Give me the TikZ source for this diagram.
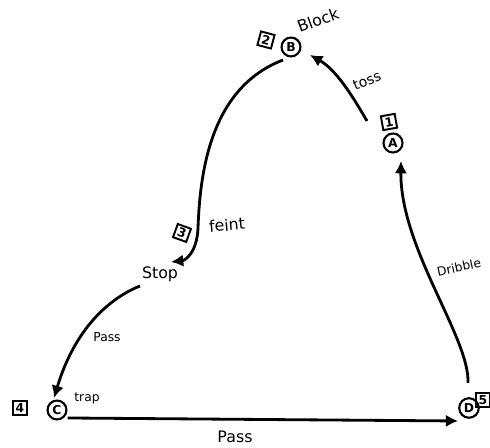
\documentclass[tikz,border=0pt]{standalone}
\usepackage{fontspec}
\setmainfont{DejaVu Sans}
\usetikzlibrary{arrows.meta}

\begin{document}
\begin{tikzpicture}[
    player/.style={draw, circle, line width=1.2pt, inner sep=1.2pt, minimum size=0.36cm, font=\scriptsize\bfseries},
    order/.style={draw, rectangle, line width=1.1pt, inner sep=1pt, minimum size=0.28cm, font=\scriptsize\bfseries},
    move/.style={line width=1.6pt, -{Latex[length=7pt,width=7pt]}},
    lbl/.style={font=\small}
  ]
    \useasboundingbox (0,0) rectangle (9.8,8.96);
    % players
    \node[player] (B) at (5.82,8.02) {B};
    \node[player] (A) at (7.86,6.10) {A};
    \node[player] (C) at (1.14,0.76) {C};
    \node[player] (D) at (9.38,0.80) {D};
    \node[lbl] (stop) at (3.20,3.48) {Stop};
    % order of play
    \node[order, rotate=10] (n1) at (7.78,6.52) {1};
    \node[order, rotate=-15] (n2) at (5.32,8.16) {2};
    \node[order, rotate=-20] (n3) at (3.64,4.30) {3};
    \node[order] (n4) at (0.40,0.80) {4};
    \node[order] (n5) at (9.66,0.96) {5};
    % start points of the moves
    \coordinate (a1) at (7.34,6.54);
    \coordinate (b1) at (5.66,7.76);
    \coordinate (s1) at (2.80,3.24);
    \coordinate (d1) at (9.36,1.30);
    % moves
    \draw[move] (a1) .. controls (7.10,6.95) and (6.75,7.55) .. (6.20,7.86);
    \draw[move] (b1) .. controls (4.20,7.20) and (4.00,5.50) .. (3.96,4.40)
        .. controls (3.94,3.90) and (3.70,3.75) .. (3.42,3.72);
    \draw[move] (s1) .. controls (2.20,3.00) and (1.50,2.40) .. (1.08,1.00);
    \draw[move] ([yshift=-0.16cm]C.east) -- ([yshift=-0.26cm]D.west);
    \draw[move] (d1) .. controls (9.40,2.20) and (8.00,4.00) .. (8.02,5.74);
    % labels
    \node[lbl, rotate=20] at (6.36,8.56) {Block};
    \node[font=\footnotesize, rotate=22] at (7.34,7.34) {toss};
    \node[lbl, rotate=5] at (4.54,4.46) {feint};
    \node[font=\scriptsize] at (2.14,2.22) {Pass};
    \node[font=\scriptsize] at (1.74,1.00) {trap};
    \node[lbl] at (4.70,0.22) {Pass};
    \node[font=\scriptsize, rotate=12] at (9.18,3.62) {Dribble};
  \end{tikzpicture}
\end{document}
